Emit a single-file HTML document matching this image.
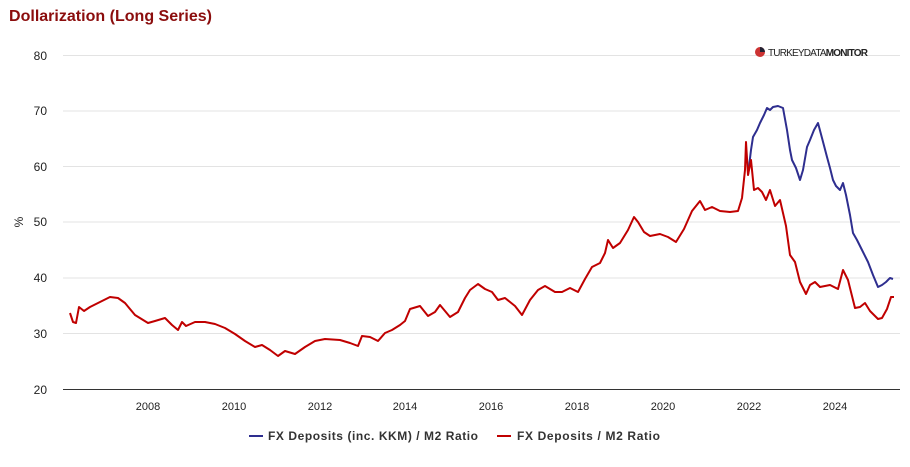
<!DOCTYPE html>
<html><head><meta charset="utf-8"><style>
body{margin:0;background:#fff;width:910px;height:462px;overflow:hidden;font-family:"Liberation Sans",sans-serif}
</style></head><body>
<svg width="910" height="462" xmlns="http://www.w3.org/2000/svg" font-family="Liberation Sans, sans-serif">
<text x="9" y="21" font-size="16" font-weight="bold" fill="#8b0d0d" textLength="203">Dollarization (Long Series)</text>
<g stroke="#e3e3e3" stroke-width="1">
<line x1="63" x2="900" y1="55.5" y2="55.5"/><line x1="63" x2="900" y1="111" y2="111"/><line x1="63" x2="900" y1="166.5" y2="166.5"/><line x1="63" x2="900" y1="222" y2="222"/><line x1="63" x2="900" y1="278" y2="278"/><line x1="63" x2="900" y1="333.5" y2="333.5"/>
</g>
<line x1="63" x2="900" y1="389.5" y2="389.5" stroke="#333" stroke-width="1"/>
<g font-size="12" fill="#222" text-anchor="end">
<text x="47" y="60">80</text><text x="47" y="115">70</text><text x="47" y="171">60</text><text x="47" y="226">50</text><text x="47" y="282">40</text><text x="47" y="338">30</text><text x="47" y="394">20</text>
</g>
<text transform="translate(23,222) rotate(-90)" font-size="12" fill="#222" text-anchor="middle">%</text>
<g font-size="11" fill="#222" text-anchor="middle">
<text x="148" y="410">2008</text><text x="234" y="410">2010</text><text x="320" y="410">2012</text><text x="405" y="410">2014</text><text x="491" y="410">2016</text><text x="577" y="410">2018</text><text x="663" y="410">2020</text><text x="749" y="410">2022</text><text x="835" y="410">2024</text>
</g>
<circle cx="760" cy="52" r="5" fill="#c33"/><path d="M760 47 A5 5 0 0 1 765 52 L760 52Z" fill="#223"/>
<text x="768" y="56" font-size="10" fill="#222" textLength="100">TURKEYDATA<tspan font-weight="bold">MONITOR</tspan></text>
<polyline fill="none" stroke="#2e2e8f" stroke-width="2" stroke-linejoin="round" points="748,175 751,150 753,137 757,130 760,123 764,115 767,108 770,110 773,107 778,106 783,108 787,130 790,150 792,160 796,168 800,180 803,170 807,147 810,140 814,130 818,123 822,138 827,157 830,168 833,180 836,186 840,190 843,183 846,195 850,215 853,233 857,240 862,250 868,262 873,275 878,287 882,285 886,282 890,278 893,279"/>
<polyline fill="none" stroke="#c00000" stroke-width="2" stroke-linejoin="round" points="70,313 73,322 76,323 79,307 84,311 90,307 100,302 110,297 118,298 125,303 135,315 148,323 155,321 165,318 172,325 178,330 182,322 186,326 195,322 205,322 215,324 225,328 235,334 245,341 255,347 262,345 270,350 278,356 285,351 295,354 305,347 315,341 325,339 340,340 350,343 358,346 362,336 370,337 378,341 385,333 392,330 400,325 405,321 410,309 420,306 428,316 435,312 440,305 450,317 458,312 465,298 470,290 478,284 485,289 492,292 498,300 505,298 515,306 522,315 530,300 538,290 545,286 555,292 562,292 570,288 578,292 585,279 592,267 600,263 605,253 608,240 613,248 620,243 628,230 634,217 638,222 644,232 650,236 660,234 668,237 676,242 684,229 692,211 700,201 705,210 712,207 720,211 730,212 738,211 742,198 745,170 746,142 748,175 751,160 754,190 758,188 762,192 766,200 770,190 775,206 780,200 786,226 790,255 795,262 800,282 806,294 810,285 815,282 820,287 830,285 838,289 843,270 848,280 852,296 855,308 860,307 865,303 870,311 878,319 882,318 887,309 891,297 894,297"/>
<line x1="249" x2="263" y1="436" y2="436" stroke="#2e2e8f" stroke-width="2"/>
<text x="268" y="440" font-size="12" font-weight="bold" fill="#333" textLength="210">FX Deposits (inc. KKM) / M2 Ratio</text>
<line x1="497" x2="511" y1="436" y2="436" stroke="#c00000" stroke-width="2"/>
<text x="517" y="440" font-size="12" font-weight="bold" fill="#333" textLength="143">FX Deposits / M2 Ratio</text>
</svg>
</body></html>
